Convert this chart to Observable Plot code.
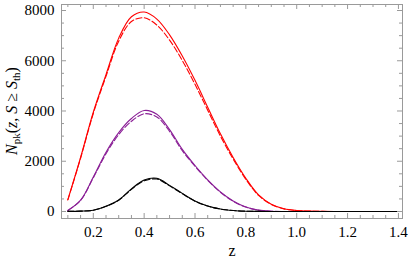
<!DOCTYPE html>
<html><head><meta charset="utf-8">
<script src="https://cdn.jsdelivr.net/npm/d3@7"></script>
<script src="https://cdn.jsdelivr.net/npm/@observablehq/plot@0.6"></script>
<style>html,body{margin:0;padding:0;background:#fff}svg{display:block}svg text{font-family:"Liberation Serif","Times New Roman",serif}</style>
</head><body><div id="chart"></div>
<script>
// redshift grid
const zGrid = [0.10,0.15,0.20,0.25,0.30,0.35,0.40,0.45,0.50,0.55,0.60,0.65,0.70,0.75,0.80,0.85,0.90,0.95,1.00,1.05,1.10,1.15,1.20,1.25,1.30,1.35,1.40];
// N_pk values
const redSolid    = [470,2150,3950,5450,6900,7750,7940,7660,7030,6190,5220,4150,3090,2150,1320,660,290,110,40,15,5,0,0,0,0,0,0];
const redDashed   = [460,2120,3900,5380,6780,7560,7710,7420,6820,6010,5060,4030,3000,2090,1280,640,280,105,38,14,5,0,0,0,0,0,0];
const purpleSolid = [40,450,1370,2360,3140,3700,4020,3870,3260,2470,1830,1260,780,420,180,55,12,0,0,0,0,0,0,0,0,0,0];
const purpleDashed= [38,440,1340,2300,3060,3590,3890,3760,3190,2420,1800,1240,765,410,175,52,11,0,0,0,0,0,0,0,0,0,0];
const blackSolid  = [5,15,50,210,460,900,1250,1320,1040,720,420,220,100,40,12,3,0,0,0,0,0,0,0,0,0,0,0];
const blackDashed = [5,14,48,205,450,880,1220,1290,1020,705,410,215,98,39,12,3,0,0,0,0,0,0,0,0,0,0,0];
// tick labels
const xTicks = [0.2,0.4,0.6,0.8,1.0,1.2,1.4];
const yTicks = [0,2000,4000,6000,8000];

const series = [
  {vals: redSolid, color: "#ff0000", dash: null},
  {vals: redDashed, color: "#ff0000", dash: "6,2.5"},
  {vals: purpleSolid, color: "#8a1f96", dash: null},
  {vals: purpleDashed, color: "#8a1f96", dash: "6,2.5"},
  {vals: blackSolid, color: "#000000", dash: null},
  {vals: blackDashed, color: "#000000", dash: "6,2.5"}
];

const FONT = "'Liberation Serif', 'Times New Roman', serif";
const W = 409, H = 261, ML = 61, MR = 7, MT = 4, MB = 43;
const FW = W - ML - MR, FH = H - MT - MB;
const gray = "#9a9a9a";
const xMinor = d3.range(2, 29).map(i => +(i * 0.05).toFixed(2)).filter(v => !xTicks.some(t => Math.abs(t - v) < 1e-9));
const yMinor = d3.range(0, 17).map(i => i * 500).filter(v => !yTicks.includes(v));

const marks = [];
for (const s of series) {
  const rows = zGrid.map((z, i) => ({z, v: s.vals[i]}));
  marks.push(Plot.line(rows, {x: "z", y: "v", stroke: s.color, strokeWidth: 1.1, strokeDasharray: s.dash, curve: "catmull-rom"}));
}
marks.push(
  Plot.frame({stroke: gray}),
  Plot.tickY(yTicks, {stroke: gray, insetRight: FW - 5}),
  Plot.tickY(yMinor, {stroke: gray, insetRight: FW - 3}),
  Plot.tickY(yTicks, {stroke: gray, insetLeft: FW - 5}),
  Plot.tickY(yMinor, {stroke: gray, insetLeft: FW - 3}),
  Plot.tickX(xTicks, {stroke: gray, insetTop: FH - 5}),
  Plot.tickX(xMinor, {stroke: gray, insetTop: FH - 3}),
  Plot.tickX(xTicks, {stroke: gray, insetBottom: FH - 5}),
  Plot.tickX(xMinor, {stroke: gray, insetBottom: FH - 3}),
  Plot.axisY(yTicks, {tickSize: 0, tickPadding: 7, tickFormat: d => String(d), fontSize: 15, fontFamily: FONT, label: null}),
  Plot.axisX(xTicks, {tickSize: 0, tickPadding: 8, tickFormat: d => d.toFixed(1), fontSize: 15, fontFamily: FONT, label: null}),
  Plot.text(["z"], {frameAnchor: "bottom", dy: 37, fontSize: 16, fontFamily: FONT, fill: "black"})
);

const chart = Plot.plot({
  width: W, height: H,
  marginLeft: ML, marginRight: MR, marginTop: MT, marginBottom: MB,
  x: {domain: [0.075, 1.416]},
  y: {domain: [-279, 8239]},
  style: {fontFamily: FONT, fontSize: "15px", color: "black", background: "white"},
  marks
});
document.getElementById("chart").append(chart);

// y-axis title with subscripts
const svg = d3.select(chart);
const t = svg.append("text")
  .attr("transform", "translate(16.5,111) rotate(-90)")
  .attr("text-anchor", "middle")
  .attr("font-family", FONT)
  .attr("font-size", 16)
  .attr("fill", "black");
t.append("tspan").attr("font-style", "italic").text("N");
t.append("tspan").attr("font-size", 11).attr("dy", 3).text("pk");
t.append("tspan").attr("dy", -3).text("(");
t.append("tspan").attr("font-style", "italic").text("z");
t.append("tspan").text(", ");
t.append("tspan").attr("font-style", "italic").text("S");
t.append("tspan").text(" ≥ ");
t.append("tspan").attr("font-style", "italic").text("S");
t.append("tspan").attr("font-size", 11).attr("dy", 3).text("th");
t.append("tspan").attr("dy", -3).text(")");
</script>
</body></html>
